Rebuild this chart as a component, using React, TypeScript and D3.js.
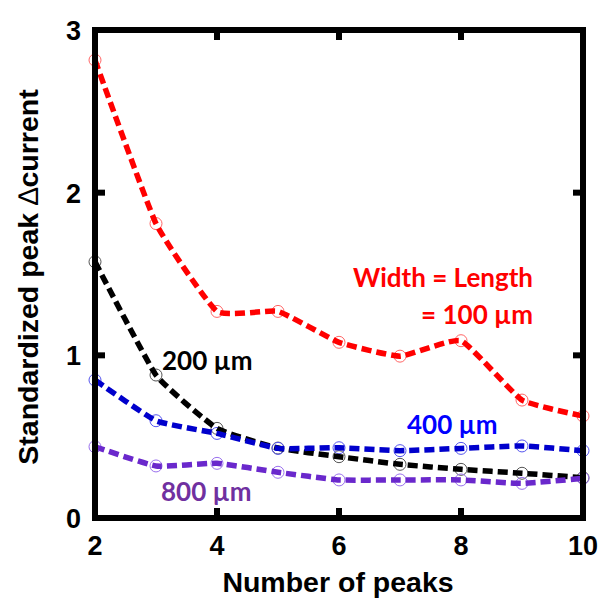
import React from "react";
import * as d3 from "d3";

// number of peaks on the x axis
const peaks = [2, 3, 4, 5, 6, 7, 8, 9, 10];

// standardized peak current
const w100 = [2.815, 1.81, 1.27, 1.27, 1.08, 0.995, 1.09, 0.725, 0.627];
const w200 = [1.575, 0.879, 0.551, 0.43, 0.377, 0.33, 0.299, 0.275, 0.248];
const w400 = [0.848, 0.598, 0.52, 0.428, 0.432, 0.414, 0.428, 0.443, 0.414];
const w800 = [0.438, 0.32, 0.336, 0.281, 0.234, 0.234, 0.234, 0.213, 0.244];

const xTicks = [2, 4, 6, 8, 10];
const yTicks = [0, 1, 2, 3];

const series = [
  { name: "100", values: w100, line: "#ff0000", marker: "#ff6666" },
  { name: "200", values: w200, line: "#000000", marker: "#555555" },
  { name: "400", values: w400, line: "#0000cc", marker: "#5555ee" },
  { name: "800", values: w800, line: "#6a28cc", marker: "#9a70ee" },
];

const W = 603;
const H = 604;
const left = 95;
const right = 583;
const top = 30;
const bottom = 518;

const font = "'Liberation Sans', Arial, sans-serif";
const noteFont = "Lato, 'Open Sans', sans-serif";

export default function App() {
  const x = d3.scaleLinear().domain([2, 10]).range([left, right]);
  const y = d3.scaleLinear().domain([0, 3]).range([bottom, top]);

  const line = d3
    .line<number>()
    .x((d, i) => x(peaks[i]))
    .y((d) => y(d))
    .curve(d3.curveCardinal.tension(0.6));

  const tick = 10;

  return (
    <svg
      width={W}
      height={H}
      style={{ position: "absolute", left: 0, top: 0, background: "#fff" }}
    >
      {/* markers under the lines */}
      {series.map((s) => (
        <g key={"m" + s.name}>
          {s.values.map((v, i) => (
            <circle
              key={i}
              cx={x(peaks[i])}
              cy={y(v)}
              r={6}
              fill="none"
              stroke={s.marker}
              strokeWidth={1}
            />
          ))}
        </g>
      ))}

      {series.map((s) => (
        <path
          key={"l" + s.name}
          d={line(s.values) || ""}
          fill="none"
          stroke={s.line}
          strokeWidth={5.5}
          strokeDasharray="10 5"
        />
      ))}

      {/* frame */}
      <rect
        x={left}
        y={top}
        width={right - left}
        height={bottom - top}
        fill="none"
        stroke="#000"
        strokeWidth={6}
      />

      {/* ticks inside on all sides */}
      {xTicks.slice(1, -1).map((t) => (
        <g key={"xt" + t}>
          <line x1={x(t)} x2={x(t)} y1={bottom} y2={bottom - tick} stroke="#000" strokeWidth={6} />
          <line x1={x(t)} x2={x(t)} y1={top} y2={top + tick} stroke="#000" strokeWidth={6} />
        </g>
      ))}
      {yTicks.slice(1, -1).map((t) => (
        <g key={"yt" + t}>
          <line x1={left} x2={left + tick} y1={y(t)} y2={y(t)} stroke="#000" strokeWidth={6} />
          <line x1={right} x2={right - tick} y1={y(t)} y2={y(t)} stroke="#000" strokeWidth={6} />
        </g>
      ))}

      {/* tick labels */}
      {xTicks.map((t) => (
        <text
          key={"xl" + t}
          x={x(t)}
          y={555}
          textAnchor="middle"
          fontFamily={font}
          fontWeight="bold"
          fontSize={27}
        >
          {t}
        </text>
      ))}
      {yTicks.map((t) => (
        <text
          key={"yl" + t}
          x={81}
          y={y(t) + 10}
          textAnchor="end"
          fontFamily={font}
          fontWeight="bold"
          fontSize={27}
        >
          {t}
        </text>
      ))}

      {/* axis titles */}
      <text
        x={338}
        y={592}
        textAnchor="middle"
        fontFamily={font}
        fontWeight="bold"
        fontSize={28.5}
      >
        Number of peaks
      </text>
      <text
        transform={`translate(38, 277) rotate(-90)`}
        textAnchor="middle"
        fontFamily={font}
        fontWeight="bold"
        fontSize={28.5}
      >
        Standardized peak <tspan fontWeight="normal">∆</tspan>current
      </text>

      {/* series notes */}
      <text x={533} y={287} textAnchor="end" fontFamily={noteFont} fontWeight="bold" fontSize={26} fill="#ff0000">
        Width = Length
      </text>
      <text x={533} y={324} textAnchor="end" fontFamily={noteFont} fontWeight="bold" fontSize={26} fill="#ff0000">
        = 100 µm
      </text>
      <text x={162} y={370} fontFamily={noteFont} fontWeight="bold" fontSize={26} fill="#000">
        200 µm
      </text>
      <text x={407} y={434} fontFamily={noteFont} fontWeight="bold" fontSize={26} fill="#0000ff">
        400 µm
      </text>
      <text x={161} y={501} fontFamily={noteFont} fontWeight="bold" fontSize={26} fill="#7030a0">
        800 µm
      </text>
    </svg>
  );
}
